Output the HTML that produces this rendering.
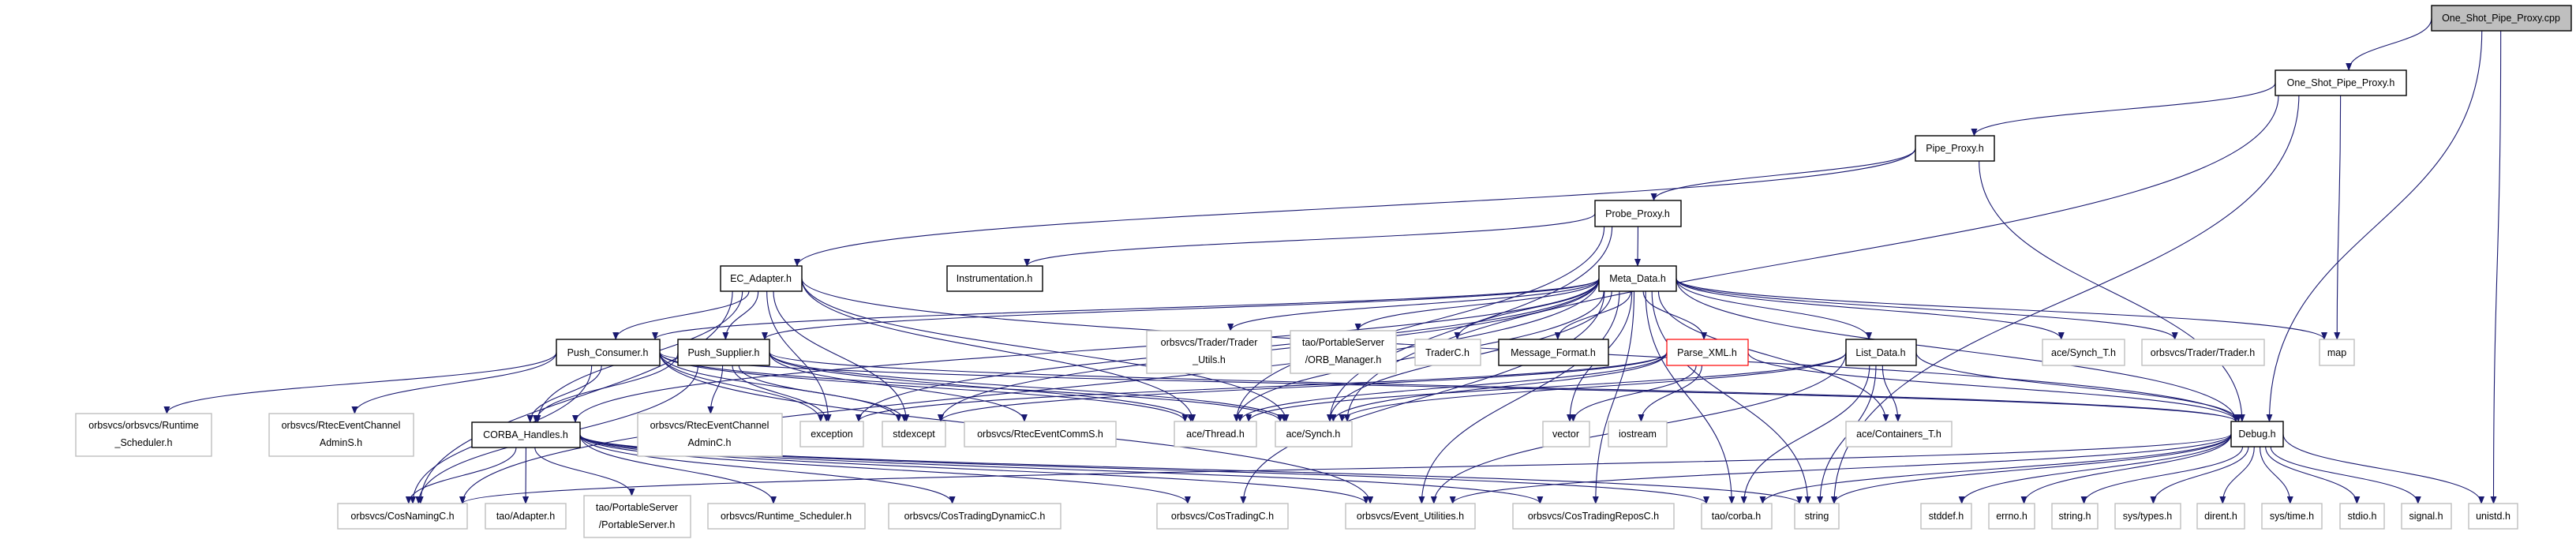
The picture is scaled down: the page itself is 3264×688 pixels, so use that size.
<!DOCTYPE html>
<html><head><meta charset="utf-8"><style>
html,body{margin:0;padding:0;background:#fff;}
svg{display:block;}
text{font-family:"Liberation Sans",sans-serif;font-size:12.5px;fill:#000;text-anchor:middle;}
.n rect{fill:#fff;stroke:#000;stroke-width:1.4;}
.g rect{fill:#fff;stroke:#bfbfbf;stroke-width:1.4;}
.r rect{fill:#fff;stroke:#ff0000;stroke-width:1.2;}
.c rect{fill:#bfbfbf;stroke:#000;stroke-width:1.4;}
#edges path{fill:none;stroke:#191970;stroke-width:1.1;}
</style></head><body>
<svg id="s" width="3264" height="688" viewBox="0 0 3264 688" xmlns="http://www.w3.org/2000/svg">
<defs><marker id="a" markerWidth="10" markerHeight="8" refX="9" refY="4" orient="auto" markerUnits="userSpaceOnUse"><path d="M0,0 L10,4 L0,8 z" fill="#191970"/></marker></defs>
<g id="edges"></g>
<g id="nodes">
<g class="c"><rect x="3081" y="7" width="177" height="32"/><text x="3169" y="27">One_Shot_Pipe_Proxy.cpp</text></g>
<g class="n"><rect x="2883" y="89" width="166" height="32"/><text x="2966" y="109">One_Shot_Pipe_Proxy.h</text></g>
<g class="n"><rect x="2427" y="172" width="100" height="32"/><text x="2477" y="192">Pipe_Proxy.h</text></g>
<g class="n"><rect x="2021" y="254" width="109" height="33"/><text x="2075" y="275">Probe_Proxy.h</text></g>
<g class="n"><rect x="913" y="337" width="103" height="32"/><text x="964" y="357">EC_Adapter.h</text></g>
<g class="n"><rect x="1200" y="337" width="121" height="32"/><text x="1260" y="357">Instrumentation.h</text></g>
<g class="n"><rect x="2026" y="337" width="98" height="32"/><text x="2075" y="357">Meta_Data.h</text></g>
<g class="n"><rect x="705" y="430" width="131" height="33"/><text x="770" y="451">Push_Consumer.h</text></g>
<g class="n"><rect x="859" y="430" width="116" height="33"/><text x="917" y="451">Push_Supplier.h</text></g>
<g class="g"><rect x="1453" y="419" width="158" height="54"/><text x="1532" y="438">orbsvcs/Trader/Trader</text><text x="1532" y="460">_Utils.h</text></g>
<g class="g"><rect x="1635" y="419" width="134" height="54"/><text x="1702" y="438">tao/PortableServer</text><text x="1702" y="460">/ORB_Manager.h</text></g>
<g class="g"><rect x="1793" y="430" width="83" height="33"/><text x="1834" y="451">TraderC.h</text></g>
<g class="n"><rect x="1899" y="430" width="139" height="33"/><text x="1968" y="451">Message_Format.h</text></g>
<g class="r"><rect x="2112" y="430" width="103" height="33"/><text x="2163" y="451">Parse_XML.h</text></g>
<g class="n"><rect x="2339" y="430" width="89" height="33"/><text x="2383" y="451">List_Data.h</text></g>
<g class="g"><rect x="2588" y="430" width="104" height="33"/><text x="2640" y="451">ace/Synch_T.h</text></g>
<g class="g"><rect x="2714" y="430" width="155" height="33"/><text x="2791" y="451">orbsvcs/Trader/Trader.h</text></g>
<g class="g"><rect x="2939" y="430" width="44" height="33"/><text x="2961" y="451">map</text></g>
<g class="g"><rect x="96" y="524" width="172" height="54"/><text x="182" y="543">orbsvcs/orbsvcs/Runtime</text><text x="182" y="565">_Scheduler.h</text></g>
<g class="g"><rect x="341" y="524" width="183" height="54"/><text x="432" y="543">orbsvcs/RtecEventChannel</text><text x="432" y="565">AdminS.h</text></g>
<g class="n"><rect x="598" y="535" width="137" height="32"/><text x="666" y="555">CORBA_Handles.h</text></g>
<g class="g"><rect x="808" y="524" width="183" height="54"/><text x="899" y="543">orbsvcs/RtecEventChannel</text><text x="899" y="565">AdminC.h</text></g>
<g class="g"><rect x="1014" y="534" width="80" height="32"/><text x="1054" y="554">exception</text></g>
<g class="g"><rect x="1118" y="534" width="80" height="32"/><text x="1158" y="554">stdexcept</text></g>
<g class="g"><rect x="1222" y="534" width="192" height="32"/><text x="1318" y="554">orbsvcs/RtecEventCommS.h</text></g>
<g class="g"><rect x="1488" y="534" width="104" height="32"/><text x="1540" y="554">ace/Thread.h</text></g>
<g class="g"><rect x="1616" y="534" width="97" height="32"/><text x="1664" y="554">ace/Synch.h</text></g>
<g class="g"><rect x="1955" y="534" width="59" height="32"/><text x="1984" y="554">vector</text></g>
<g class="g"><rect x="2038" y="534" width="74" height="32"/><text x="2075" y="554">iostream</text></g>
<g class="g"><rect x="2339" y="534" width="134" height="32"/><text x="2406" y="554">ace/Containers_T.h</text></g>
<g class="n"><rect x="2827" y="534" width="66" height="32"/><text x="2860" y="554">Debug.h</text></g>
<g class="g"><rect x="428" y="638" width="164" height="32"/><text x="510" y="658">orbsvcs/CosNamingC.h</text></g>
<g class="g"><rect x="615" y="638" width="102" height="32"/><text x="666" y="658">tao/Adapter.h</text></g>
<g class="g"><rect x="740" y="628" width="135" height="53"/><text x="807" y="647">tao/PortableServer</text><text x="807" y="669">/PortableServer.h</text></g>
<g class="g"><rect x="897" y="638" width="199" height="32"/><text x="996" y="658">orbsvcs/Runtime_Scheduler.h</text></g>
<g class="g"><rect x="1126" y="638" width="218" height="32"/><text x="1235" y="658">orbsvcs/CosTradingDynamicC.h</text></g>
<g class="g"><rect x="1466" y="638" width="166" height="32"/><text x="1549" y="658">orbsvcs/CosTradingC.h</text></g>
<g class="g"><rect x="1705" y="638" width="164" height="32"/><text x="1787" y="658">orbsvcs/Event_Utilities.h</text></g>
<g class="g"><rect x="1917" y="638" width="204" height="32"/><text x="2019" y="658">orbsvcs/CosTradingReposC.h</text></g>
<g class="g"><rect x="2156" y="638" width="89" height="32"/><text x="2200" y="658">tao/corba.h</text></g>
<g class="g"><rect x="2274" y="638" width="56" height="32"/><text x="2302" y="658">string</text></g>
<g class="g"><rect x="2434" y="638" width="64" height="32"/><text x="2466" y="658">stddef.h</text></g>
<g class="g"><rect x="2520" y="638" width="58" height="32"/><text x="2549" y="658">errno.h</text></g>
<g class="g"><rect x="2600" y="638" width="58" height="32"/><text x="2629" y="658">string.h</text></g>
<g class="g"><rect x="2680" y="638" width="83" height="32"/><text x="2721" y="658">sys/types.h</text></g>
<g class="g"><rect x="2784" y="638" width="60" height="32"/><text x="2814" y="658">dirent.h</text></g>
<g class="g"><rect x="2866" y="638" width="76" height="32"/><text x="2904" y="658">sys/time.h</text></g>
<g class="g"><rect x="2965" y="638" width="56" height="32"/><text x="2993" y="658">stdio.h</text></g>
<g class="g"><rect x="3043" y="638" width="63" height="32"/><text x="3074" y="658">signal.h</text></g>
<g class="g"><rect x="3128" y="638" width="62" height="32"/><text x="3159" y="658">unistd.h</text></g>
</g>
</svg>
<script>
var N={cpp:[3081,7,177,32],osp:[2883,89,166,32],pipe:[2427,172,100,32],probe:[2021,254,109,33],ec:[913,337,103,32],instr:[1200,337,121,32],meta:[2026,337,98,32],pc:[705,430,131,33],ps:[859,430,116,33],tu:[1453,419,158,54],orb:[1635,419,134,54],tc:[1793,430,83,33],mf:[1899,430,139,33],px:[2112,430,103,33],ld:[2339,430,89,33],st:[2588,430,104,33],th:[2714,430,155,33],map:[2939,430,44,33],rss:[96,524,172,54],ads:[341,524,183,54],cb:[598,535,137,32],adc:[808,524,183,54],exc:[1014,534,80,32],sx:[1118,534,80,32],rcs:[1222,534,192,32],thr:[1488,534,104,32],syn:[1616,534,97,32],vec:[1955,534,59,32],ios:[2038,534,74,32],ct:[2339,534,134,32],dbg:[2827,534,66,32],cn:[428,638,164,32],ad:[615,638,102,32],pss:[740,628,135,53],rs:[897,638,199,32],ctd:[1126,638,218,32],ctc:[1466,638,166,32],eu:[1705,638,164,32],ctr:[1917,638,204,32],cor:[2156,638,89,32],str:[2274,638,56,32],sd:[2434,638,64,32],er:[2520,638,58,32],sh:[2600,638,58,32],sty:[2680,638,83,32],di:[2784,638,60,32],sti:[2866,638,76,32],sio:[2965,638,56,32],sig:[3043,638,63,32],un:[3128,638,62,32]};
var E="cpp osp,cpp dbg,cpp un,osp pipe,osp map,osp str,osp syn,pipe probe,pipe ec,pipe dbg,probe meta,probe instr,probe thr,probe syn,ec pc,ec ps,ec cb,ec cn,ec thr,ec syn,ec sx,ec exc,ec dbg,meta pc,meta ps,meta cb,meta tu,meta orb,meta tc,meta mf,meta px,meta ld,meta st,meta th,meta map,meta dbg,meta ct,meta thr,meta syn,meta vec,meta str,meta eu,meta ctc,meta ctr,meta cn,meta cor,meta exc,meta sx,pc rss,pc ads,pc cb,pc cn,pc thr,pc syn,pc exc,pc sx,pc dbg,pc eu,ps cb,ps adc,ps exc,ps sx,ps rcs,ps thr,ps syn,ps cn,ps dbg,cb cn,cb ad,cb pss,cb rs,cb ctd,cb ctc,cb eu,cb ctr,cb cor,cb str,px syn,px vec,px ios,px thr,px exc,px sx,px dbg,ld dbg,ld ct,ld str,ld eu,ld thr,ld syn,ld cor,dbg sd,dbg er,dbg sh,dbg sty,dbg di,dbg sti,dbg sio,dbg sig,dbg un,dbg str,dbg cor,dbg eu,dbg cn".split(",");
var g=document.getElementById("edges"),h="";
E.forEach(function(e){var p=e.split(" "),s=N[p[0]],t=N[p[1]];
var scx=s[0]+s[2]/2,tcx=t[0]+t[2]/2,sy,ty,sx,tx;
if(t[1]>s[1]+s[3]-2){sy=s[1]+s[3];ty=t[1];
 var off=(tcx-scx)*0.08;off=Math.max(-s[2]/2+4,Math.min(s[2]/2-4,off));sx=scx+off;
 var o2=(scx-tcx)*0.05;o2=Math.max(-t[2]/2+6,Math.min(t[2]/2-6,o2));tx=tcx+o2;
 var dx=Math.abs(tx-sx),dy=ty-sy;
 if(dx>dy*3){sx=tx<sx?s[0]:s[0]+s[2];sy=s[1]+s[3]/2;}
 var c=(ty-sy)*0.5;
 h+='<path marker-end="url(#a)" d="M'+sx+','+sy+' C'+sx+','+(sy+c)+' '+tx+','+(ty-c)+' '+tx+','+ty+'"/>';}
else{sx=scx+6;sy=s[1];tx=tcx+6;ty=t[1]+t[3];
 h+='<path marker-end="url(#a)" d="M'+sx+','+sy+' C'+(sx+4)+','+(sy-25)+' '+(tx+4)+','+(ty+25)+' '+tx+','+ty+'"/>';}
});
g.innerHTML=h;
</script>
</body></html>
